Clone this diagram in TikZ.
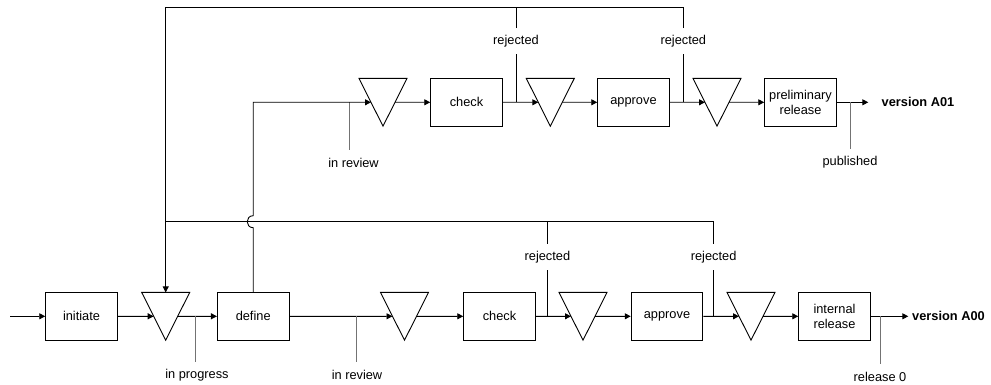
\documentclass[tikz,border=0pt]{standalone}
\usepackage{fontspec}
\setmainfont{Liberation Sans}
\usetikzlibrary{arrows.meta,calc}
\begin{document}
\begin{tikzpicture}[x=1pt,y=-1pt,
  txt/.style={font=\fontsize{12.8}{15}\selectfont},
  box/.style={txt,draw,line width=0.9pt,minimum width=71.6pt,minimum height=47.4pt,inner sep=1pt,align=center},
  gate/.style={minimum width=47.6pt,minimum height=47.4pt,inner sep=0pt},
  tag/.style={txt,minimum height=26pt,inner sep=0pt},
  result/.style={font=\fontsize{12.8}{15}\selectfont\bfseries,anchor=west,inner sep=0pt},
  flow/.style={line width=0.9pt,-{Triangle[length=6pt,width=6pt]}},
  wire/.style={line width=0.9pt},
  marker/.style={line width=0.9pt,draw=black!55}]
\useasboundingbox (0,0) rectangle (991,385);

% lower process row
\coordinate (src) at (10,316.3);
\node[box] (initiate) at (81.5,316.3) {initiate};
\node[gate] (g1) at (165.7,316.3) {};
\node[box] (define) at (253.2,316.3) {define};
\node[gate] (g2) at (404.5,316.3) {};
\node[box] (check0) at (499.5,316.3) {check};
\node[gate] (g3) at (583,316.3) {};
\node[box] (approve0) at (667,316.3) {approve};
\node[gate] (g4) at (751,316.3) {};
\node[box] (internal) at (834.5,316.3) {internal\\release};
\coordinate (e0) at (908.3,316.3);
\node[result] (v0) at (912,316.3) {version A00};

% upper process row
\node[gate] (g5) at (383,102.3) {};
\node[box] (check1) at (466.5,102.3) {check};
\node[gate] (g6) at (550.3,102.3) {};
\node[box] (approve1) at (633.5,102.3) {approve};
\node[gate] (g7) at (717,102.3) {};
\node[box] (prelim) at (800.5,102.3) {preliminary\\release};
\coordinate (e1) at (868.3,102.3);
\node[result] (v1) at (881.5,102.3) {version A01};

% status gates: inverted triangles with entry/exit points on the slanted sides
\foreach \g in {g1,g2,g3,g4,g5,g6,g7} {
  \draw[wire] (\g.north west) -- (\g.north east) -- (\g.south) -- cycle;
  \coordinate (\g-in) at ($(\g.north west)!.5!(\g.south)$);
  \coordinate (\g-out) at ($(\g.north east)!.5!(\g.south)$);
}

% flow of the lower row
\draw[flow] (src) -- (initiate.west);
\draw[flow] (initiate.east) -- (g1-in);
\draw[flow] (g1-out) -- (define.west);
\draw[flow] (define.east) -- (g2-in);
\draw[flow] (g2-out) -- (check0.west);
\draw[flow] (check0.east) -- (g3-in);
\draw[flow] (g3-out) -- (approve0.west);
\draw[flow] (approve0.east) -- (g4-in);
\draw[flow] (g4-out) -- (internal.west);
\draw[flow] (internal.east) -- (e0);

% flow of the upper row
\draw[flow] (g5-out) -- (check1.west);
\draw[flow] (check1.east) -- (g6-in);
\draw[flow] (g6-out) -- (approve1.west);
\draw[flow] (approve1.east) -- (g7-in);
\draw[flow] (g7-out) -- (prelim.west);
\draw[flow] (prelim.east) -- (e1);

% status labels
\node[tag] (ip) at (197,375) {in progress};
\node[tag] (ir0) at (357,375) {in review};
\node[tag] (rj0a) at (547.4,257) {rejected};
\node[tag] (rj0b) at (713.6,257) {rejected};
\node[tag] (rel) at (880,377) {release 0};
\node[tag] (ir1) at (353.5,163) {in review};
\node[tag] (rj1a) at (516,41.3) {rejected};
\node[tag] (rj1b) at (683.3,41.3) {rejected};
\node[tag] (pub) at (850,162) {published};

\coordinate (ipt) at (195,316.3);
\coordinate (ir0t) at (356,316.3);
\coordinate (ir1t) at (349.7,102.3);
\draw[marker] (ipt) -- (ipt |- ip.north);
\draw[marker] (ir0t) -- (ir0t |- ir0.north);
\draw[marker] (rel.north) -- (rel.north |- internal.east);
\draw[marker] (ir1t) -- (ir1t |- ir1.north);
\draw[marker] (pub.north) -- (pub.north |- prelim.east);
\draw[wire] (rj0a.south) -- (rj0a.south |- check0.east);
\draw[wire] (rj0b.south) -- (rj0b.south |- approve0.east);
\draw[wire] (rj1a.south) -- (rj1a.south |- check1.east);
\draw[wire] (rj1b.south) -- (rj1b.south |- approve1.east);

% rejection loops back to the first gate
\coordinate (toploop) at (165.7,7.3);
\coordinate (lowloop) at (165.7,221.7);
\draw[wire] (rj1b.north) -- (rj1b.north |- toploop) -- (toploop);
\draw[wire] (rj1a.north) -- (rj1a.north |- toploop);
\draw[flow] (toploop) -- (g1.north);
\draw[wire] (rj0b.north) -- (rj0b.north |- lowloop) -- (lowloop);
\draw[wire] (rj0a.north) -- (rj0a.north |- lowloop);

% define feeds the upper row, hopping over the lower loop line
\coordinate (hop) at (define.north |- lowloop);
\draw[flow] (define.north) -- ($(hop)+(0,6)$)
  .. controls ($(hop)+(-8,6)$) and ($(hop)+(-8,-6)$) .. ($(hop)+(0,-6)$)
  -- (hop |- g5-in) -- (g5-in);
\end{tikzpicture}
\end{document}
